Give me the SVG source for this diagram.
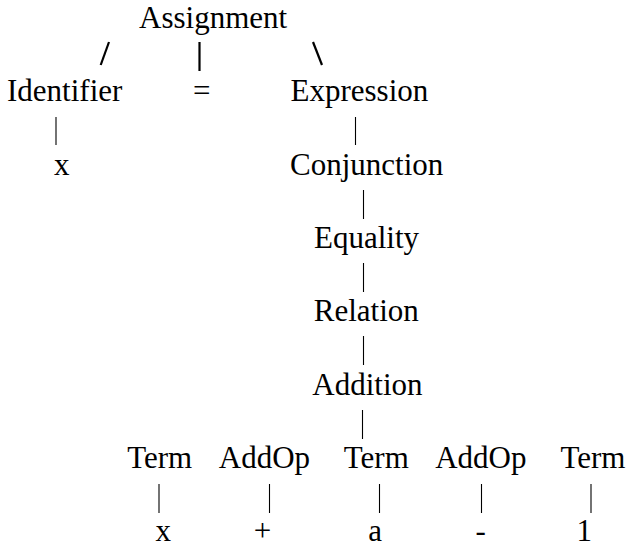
<svg xmlns="http://www.w3.org/2000/svg" width="626" height="544" viewBox="0 0 626 544">
<style>
text{font-family:"Liberation Serif","Times New Roman",serif;font-size:31px;fill:#000}
.c line{stroke:#000;stroke-width:1.1}
.c line.b{stroke-width:2.2}
</style>
<rect width="626" height="544" fill="#fff"/>
<g id="connectors" class="c">
<line class="b" x1="109" y1="42" x2="100.7" y2="65"/>
<line class="b" x1="199.5" y1="42" x2="199.5" y2="71"/>
<line class="b" x1="313" y1="42" x2="322" y2="65"/>
<line x1="56" y1="117" x2="56" y2="145"/>
<line x1="355.5" y1="117" x2="355.5" y2="145"/>
<line x1="363.5" y1="190" x2="363.5" y2="219"/>
<line x1="363.5" y1="263" x2="363.5" y2="292"/>
<line x1="363.5" y1="336" x2="363.5" y2="365"/>
<line x1="362.5" y1="410" x2="362.5" y2="439"/>
<line x1="159" y1="484" x2="159" y2="513"/>
<line x1="269.5" y1="484" x2="269.5" y2="513"/>
<line x1="379.5" y1="484" x2="379.5" y2="513"/>
<line x1="481.5" y1="484" x2="481.5" y2="513"/>
<line x1="591" y1="484" x2="591" y2="513"/>
</g>
<g id="assignment"><text x="139" y="28">Assignment</text></g>
<g id="identifier"><text x="7" y="101.3">Identifier</text></g>
<g id="equals"><text x="193" y="101.3">=</text></g>
<g id="expression"><text x="290.5" y="101.3">Expression</text></g>
<g id="id-x"><text x="54" y="174.6">x</text></g>
<g id="conjunction"><text x="290" y="174.6">Conjunction</text></g>
<g id="equality"><text x="314" y="247.9">Equality</text></g>
<g id="relation"><text x="313.8" y="321.2">Relation</text></g>
<g id="addition"><text x="312.3" y="394.5">Addition</text></g>
<g id="term1"><text x="127.2" y="467.8">Term</text></g>
<g id="addop1"><text x="218.8" y="467.8">AddOp</text></g>
<g id="term2"><text x="343.8" y="467.8">Term</text></g>
<g id="addop2"><text x="435.2" y="467.8">AddOp</text></g>
<g id="term3"><text x="560.5" y="467.8">Term</text></g>
<g id="leaf-x"><text x="155.5" y="540.5">x</text></g>
<g id="leaf-plus"><text x="253.8" y="540.5">+</text></g>
<g id="leaf-a"><text x="368.2" y="540.5">a</text></g>
<g id="leaf-minus"><text x="475.5" y="540.5">-</text></g>
<g id="leaf-1"><text x="576.6" y="540.5">1</text></g>
</svg>
